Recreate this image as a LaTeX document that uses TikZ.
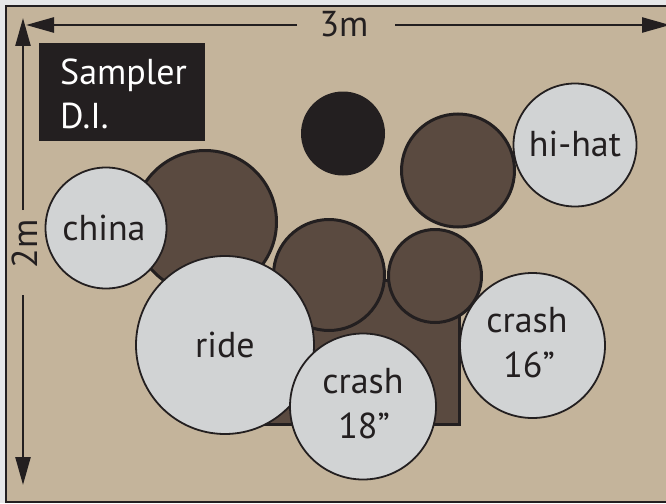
\documentclass[tikz,border=0pt]{standalone}
\usepackage{fontspec}
\setmainfont{PT Sans}
\usetikzlibrary{arrows.meta}
\definecolor{bggray}{HTML}{E6E7E8}
\definecolor{tanc}{HTML}{C4B49B}
\definecolor{brownc}{HTML}{5A4A40}
\definecolor{darkc}{HTML}{231F20}
\definecolor{cymc}{HTML}{D1D3D4}
\tikzset{
  drum/.style={circle, draw=darkc, fill=brownc, line width=3pt, minimum size=#1, inner sep=0pt, outer sep=0pt},
  cym/.style={circle, draw=darkc, fill=cymc, line width=1.8pt, minimum size=#1, inner sep=0pt, outer sep=0pt},
  lbl/.style={font=\fontsize{36}{44}\selectfont, text=darkc, inner sep=0pt, anchor=base},
  dim/.style={draw=darkc, line width=2.5pt, -{Triangle[length=28pt,width=15pt]}},
}
\begin{document}
\begin{tikzpicture}[x=1pt,y=-1pt]
\useasboundingbox (0,0) rectangle (666,503);
\clip (0,0) rectangle (666,503);
\fill[bggray] (0,0) rectangle (666,503);
\draw[fill=tanc, draw=darkc, line width=2pt] (6,6) rectangle (700,502);

% sampler box
\node[fill=darkc, minimum width=166pt, minimum height=98pt, inner sep=0pt, anchor=north west] (sampler) at (39,43) {};
\node[lbl, text=white, anchor=base west] (sampl1) at (60,84) {Sampler};
\node[lbl, text=white, anchor=base west] (sampl2) at (60,128) {D.I.};

% drums and cymbals
\node[drum=143pt] (bass) at (205,222) {};
\node[cym=121pt] (china) at (106,228) {};
\node[lbl] (chinat) at (104,240) {china};
\node[circle, fill=darkc, minimum size=84pt, inner sep=0pt] (throne) at (343,133.5) {};
\node[drum=113pt] (tomr) at (458,170.5) {};
\node[cym=123pt] (hihat) at (575,145) {};
\node[lbl] (hihatt) at (575,156) {hi-hat};
\draw[fill=brownc, draw=darkc, line width=3pt] (262,280) rectangle (459,424);
\node[drum=111pt] (tomm) at (329,275) {};
\node[drum=93pt] (toms) at (435,276) {};
\node[cym=178pt] (ride) at (225,345) {};
\node[lbl] (ridet) at (225,357) {ride};
\node[cym=146pt] (crasha) at (363,406.5) {};
\node[lbl] (crasha1) at (363,393) {crash};
\node[lbl] (crasha2) at (364,438) {18”};
\node[cym=145pt] (crashb) at (532.5,345.5) {};
\node[lbl] (crashb1) at (527,332) {crash};
\node[lbl] (crashb2) at (529,377) {16”};

% dimensions
\coordinate (hl) at (26,25);
\coordinate (hlg) at (297,25);
\coordinate (hrg) at (395,25);
\coordinate (hr) at (670,25);
\coordinate (vt) at (23,18);
\coordinate (vtg) at (23,210);
\coordinate (vbg) at (23,295);
\coordinate (vb) at (23,485);
\draw[dim] (hlg) -- (hl);
\draw[dim] (hrg) -- (hr);
\draw[dim] (vtg) -- (vt);
\draw[dim] (vbg) -- (vb);
\node[lbl] (wlabel) at (344,37) {3m};
\node[font=\fontsize{36}{44}\selectfont, text=darkc, inner sep=0pt, rotate=90] (hlabel) at (25,244) {2m};
\end{tikzpicture}
\end{document}
